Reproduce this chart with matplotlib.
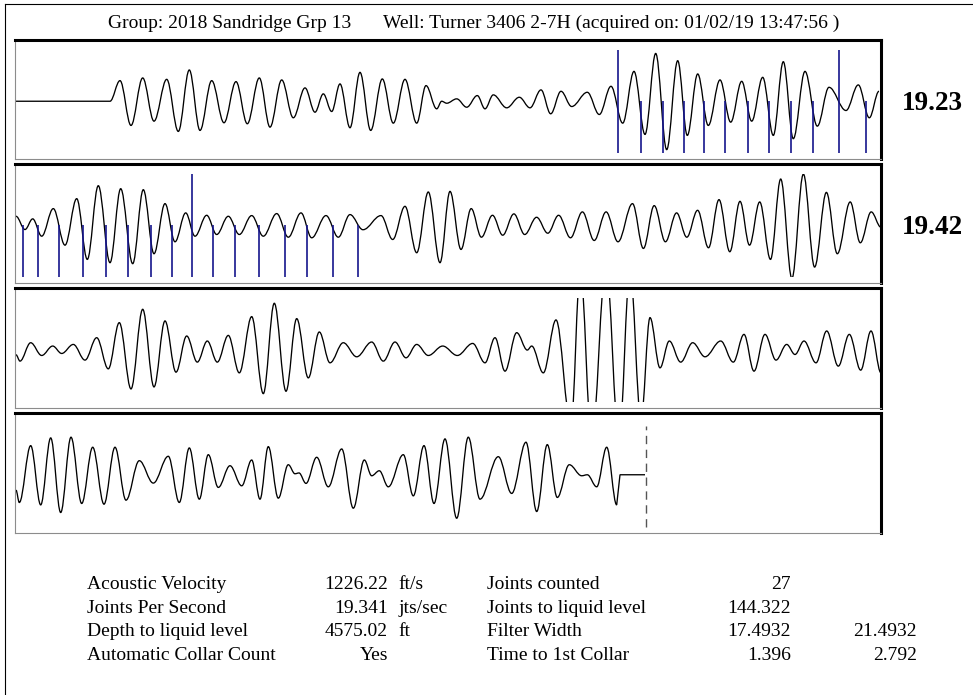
import matplotlib.pyplot as plt
from matplotlib.lines import Line2D
from matplotlib.patches import PathPatch, Rectangle
from matplotlib.path import Path

plt.rcParams["font.family"] = ["Liberation Serif", "DejaVu Serif"]

W, H = 973, 695

# echo trace, read off the picture as extrema: position along the row
# (0..866, one row = 2 s) and amplitude (up = positive)
p1_flat = [1, 95]
p1_x = [105, 116, 127.7, 139, 151.7, 163.3, 174.3, 185, 196.7, 209,
        221, 232.3, 244.3, 255, 266.7, 278.3, 290, 300, 308.3, 316.7,
        325, 335, 345, 355.7, 367.3, 378.3, 390, 401.7, 411, 421.7,
        426.7, 431.7, 441.7, 451.7, 462.3, 470, 478.3, 491.7, 504.3, 515,
        526, 535.7, 546, 556.7, 572.3, 584.3, 596, 607.7, 619, 630,
        640.7, 651.7, 662.7, 672.3, 682.7, 693.3, 705, 715.7, 726.7, 736.7,
        747.7, 758.3, 768.3, 778.3, 790, 802.3, 814, 831, 843.3, 854.3,
        864]
p1_amp = [20.7, -24.3, 23.4, -20, 22, -30.3, 31.4, -29.3, 20.7, -21.6,
          19.7, -22.6, 23.4, -26, 21.4, -16.6, 13.4, -11, 7.4, -10.3,
          17.4, -26.6, 29, -29.3, 22.4, -22, 22, -22, 15.7, -7.6,
          0, -2, 2.4, -6, 5.7, -7.6, 6.4, -6.6, 4, -6.6,
          11.4, -12.6, 10, -5.3, 9, -13.3, 15, -22, 30, -33.3,
          48, -48.6, 40.7, -34.3, 27.4, -24.3, 21.4, -21, 20, -20,
          24, -34.3, 39.7, -37.6, 30, -25, 14, -9.3, 16.4, -16.6,
          10]

p2_x = [1, 10, 17.7, 26.7, 38.3, 50, 61.7, 72.3, 83.3, 95,
        105.7, 117.7, 128.3, 139, 150, 160, 170.7, 180, 191.7, 201.7,
        213.3, 224.3, 236.7, 248.3, 261.7, 273.3, 286, 296.7, 311, 323.3,
        335, 348, 366, 377.7, 390, 401.7, 413.3, 425, 435, 446,
        456.2, 466.4, 477.5, 487.7, 498.9, 509.7, 521.6, 532.8, 543.6, 555.5,
        567.4, 579.2, 591.1, 603, 617.5, 628.4, 639.2, 650.4, 661.6, 671.8,
        682.6, 693.5, 704, 714.8, 725, 734.5, 744.7, 755.5, 765.7, 776.9,
        788.4, 799.6, 811.4, 822.3, 835.2, 845.3, 856.2, 866]
p2_amp = [9, -4.3, 6.4, -11, 16.7, -20, 26.7, -34.3, 39.7, -37.6,
          36.7, -38.6, 35.7, -28.6, 21.7, -16.6, 12.4, -11, 10, -9.3,
          9, -9.3, 9.7, -11, 11.7, -12, 12.4, -12.6, 9.7, -12,
          10.7, -4.5, 9.7, -14.3, 19, -27.6, 33.4, -37.6, 34, -24.3,
          16.7, -12, 10, -10, 11.4, -9.3, 8, -8, 10, -12.6,
          13.4, -15.3, 13.4, -16.6, 21.7, -23.3, 19.7, -16.6, 12.4, -12,
          15, -22.6, 25.7, -26.6, 24, -20, 23.4, -34.3, 46.4, -53.3,
          51.4, -42, 33, -28.6, 23.4, -17.6, 13.4, -2]

p3_x = [1, 5, 15.7, 26.7, 37.7, 46.7, 58.3, 70, 81.7, 93.3,
        104.3, 116, 127.7, 139, 150, 161, 171.7, 182.3, 192.3, 202.3,
        213.3, 224.3, 236.7, 248.3, 259.3, 271, 281.7, 293.3, 304.3, 315,
        328.3, 341.7, 356.7, 368.3, 380, 391, 401.7, 413.3, 427.7, 442.3,
        457.7, 470, 480, 490, 501.7, 512.3, 516.7, 528.3, 541, 556,
        565.3, 576.7, 591, 604, 615, 626, 635, 645, 654.3, 665.7,
        677.7, 690, 705.7, 718.3, 729, 739, 750, 761, 771.7, 780,
        789, 801, 811.7, 823.3, 834.3, 845.7, 856, 866]
p3_amp = [-5, -11.3, 7, -5.7, 3.7, -3.7, 5.3, -10.3, 12, -19,
          27, -39, 40.3, -37, 28.7, -22.3, 13.7, -12.3, 8.7, -12.3,
          14.3, -23, 33, -43.7, 46.3, -41.3, 31, -28, 17.7, -13,
          7, -7, 7.7, -11.3, 7.7, -8, 5.3, -5.7, 3.7, -5.7,
          6.3, -13, 12, -21.3, 17, -0.3, 3.7, -23, 29.7, -75,
          80, -90, 85, -90, 80, -70, 32, -18, 8.7, -12.3,
          7, -7, 8.7, -12.3, 15.3, -21.3, 15.3, -10.3, 5.3, -4.7,
          8.7, -13, 18.7, -16.3, 15.3, -20.3, 18.7, -23]

p4_x = [1, 4.3, 15.7, 25.7, 35.7, 45.7, 56, 66.7, 77.7, 89,
        100, 111, 124.3, 138.3, 153.3, 164.3, 174.3, 184.3, 193.3, 203.3,
        215, 226.7, 236.7, 245, 253.3, 263.3, 273.3, 280, 284, 291,
        301.7, 313.3, 326.7, 338.3, 349.3, 356.7, 364.3, 373.3, 388.3, 398.3,
        409, 419, 430, 441.7, 453.3, 465, 483.3, 496.7, 511, 521.7,
        532.3, 542.3, 554.3, 566.7, 572.3, 581.7, 591.7, 601.7]
p4_amp = [-15.3, -27.6, 29, -30, 36.7, -37.6, 37.4, -28.6, 27.4, -29.3,
          27.4, -25.3, 14, -8.3, 18.4, -27.6, 26.7, -24.3, 20, -12.6,
          9, -11, 14.7, -24.3, 28, -23.3, 10, 1, 1.8, -8.6,
          17.4, -12, 25.7, -33.3, 14.7, -1, 4, -12, 20, -21,
          29, -28.6, 35.7, -43.3, 37.4, -24.3, 18, -18.6, 32.4, -36.6,
          30, -22.6, 10, -1, 0, -12, 27.4, -30]
p4_tail = [605, 630]
liquid_level = 631

# collar marks (tall = every tenth joint)
p1_collars = [603.3, 626, 648.3, 669, 689.3, 710.3, 733, 753.7, 776, 798.3, 824, 850.7]
p1_tall = [603.3, 824]
p2_collars = [7.7, 22.7, 44, 68.3, 91, 113.3, 136, 156.7, 176.7, 197.7,
              220.3, 244.3, 270, 292.3, 318.3, 343.3]
p2_tall = [176.7]

row_rates = ["19.23", "19.42", "", ""]

title_group = "Group: 2018 Sandridge Grp 13"
title_well = "Well: Turner 3406 2-7H (acquired on: 01/02/19 13:47:56 )"

labels_left = ["Acoustic Velocity", "Joints Per Second",
               "Depth to liquid level", "Automatic Collar Count"]
values_left = ["1226.22", "19.341", "4575.02", "Yes"]
units_left = ["ft/s", "jts/sec", "ft", ""]
labels_right = ["Joints counted", "Joints to liquid level",
                "Filter Width", "Time to 1st Collar"]
values_right = ["27", "144.322", "17.4932", "1.396"]
values_right2 = ["", "", "21.4932", "2.792"]

K = 0.363
CLIP_LO, CLIP_HI = -52.3, 51.7


def fx(x):
    return x / W


def fy(y):
    return 1 - y / H


def wave_path(xs, ys, head=(), tail=(), level=0.0):
    pts = list(zip(xs, ys))
    verts, codes = [], []
    if head:
        verts.append((head[0], level))
        codes.append(Path.MOVETO)
        for hx in head[1:]:
            verts.append((hx, level))
            codes.append(Path.LINETO)
    else:
        verts.append(pts[0])
        codes.append(Path.MOVETO)
        pts = pts[1:]
    prev = verts[-1]
    for p in pts:
        dx = p[0] - prev[0]
        verts += [(prev[0] + K * dx, prev[1]), (p[0] - K * dx, p[1]), p]
        codes += [Path.CURVE4] * 3
        prev = p
    for tx in tail:
        verts.append((tx, level))
        codes.append(Path.LINETO)
    return Path(verts, codes)


fig = plt.figure(figsize=(W / 100, H / 100), dpi=100)

fig.add_artist(Line2D([fx(5), fx(5)], [0, fy(4)], color="black", lw=0.8,
                      transform=fig.transFigure))
fig.add_artist(Line2D([fx(5), 1], [fy(4), fy(4)], color="black", lw=0.8,
                      transform=fig.transFigure))

fig.text(fx(108), fy(28), title_group, fontsize=14, va="baseline")
fig.text(fx(383), fy(28), title_well, fontsize=14, va="baseline")

panels = [
    (40, 159, wave_path(p1_x, p1_amp, head=p1_flat)),
    (164, 283, wave_path(p2_x, p2_amp)),
    (288, 408, wave_path(p3_x, p3_amp)),
    (413, 533, wave_path(p4_x, p4_amp, tail=p4_tail)),
]

axes = []
for top, bottom, path in panels:
    ax = fig.add_axes([fx(15), fy(bottom), fx(881) - fx(15), (bottom - top) / H])
    ax.set_xlim(0, 866)
    ax.set_ylim(-58, 61.5)
    ax.set_xticks([])
    ax.set_yticks([])
    for side in ["top", "right"]:
        ax.spines[side].set_color("black")
        ax.spines[side].set_linewidth(2.2)
    for side in ["left", "bottom"]:
        ax.spines[side].set_color("#8c8c8c")
        ax.spines[side].set_linewidth(0.8)

    clip = Rectangle((0, CLIP_LO), 866, CLIP_HI - CLIP_LO, transform=ax.transData)
    trace = PathPatch(path, facecolor="none", edgecolor="black", lw=0.95)
    ax.add_patch(trace)
    trace.set_clip_path(clip)
    axes.append(ax)

blue = "#15158c"
for ax, collars, tall in [(axes[0], p1_collars, p1_tall), (axes[1], p2_collars, p2_tall)]:
    short = [c for c in collars if c not in tall]
    ax.vlines(short, CLIP_LO, 0, colors=blue, lw=1.2)
    ax.vlines(tall, CLIP_LO, CLIP_HI, colors=blue, lw=1.2)

axes[3].vlines(liquid_level, CLIP_LO, 49, colors="#555555", lw=1.0,
               linestyles=(0, (6, 4)))

for (top, bottom, _), rate in zip(panels, row_rates):
    if rate:
        fig.text(fx(902), fy((top + bottom) / 2 + 10), rate, fontsize=19.5,
                 fontweight="bold", va="baseline")

row_y = [589, 612.7, 636.3, 660]
for i, y in enumerate(row_y):
    fig.text(fx(87), fy(y), labels_left[i], fontsize=14, va="baseline")
    fig.text(fx(388), fy(y), values_left[i], fontsize=14, va="baseline", ha="right")
    fig.text(fx(398), fy(y), units_left[i], fontsize=14, va="baseline")
    fig.text(fx(487), fy(y), labels_right[i], fontsize=14, va="baseline")
    fig.text(fx(791), fy(y), values_right[i], fontsize=14, va="baseline", ha="right")
    fig.text(fx(917), fy(y), values_right2[i], fontsize=14, va="baseline", ha="right")

fig.savefig("out.png", dpi=100)
